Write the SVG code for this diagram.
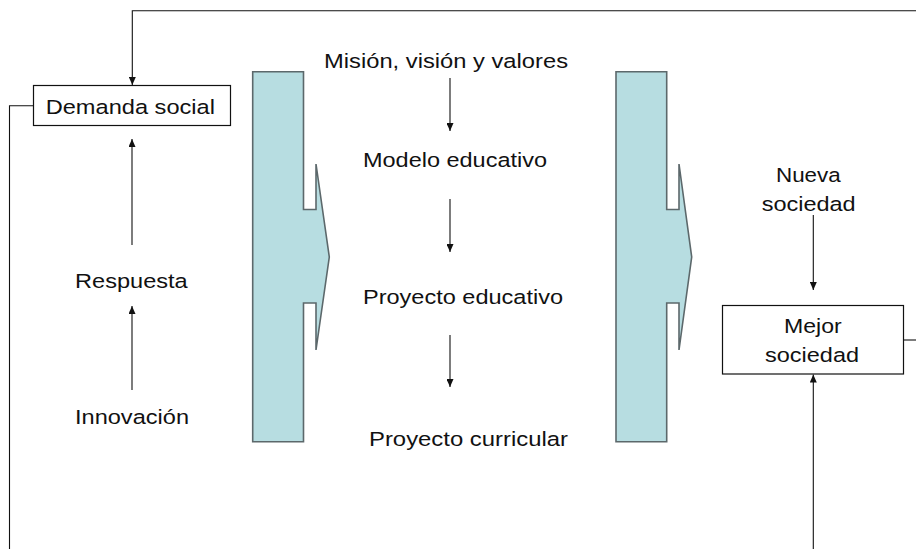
<svg xmlns="http://www.w3.org/2000/svg" width="916" height="549" viewBox="0 0 916 549">
<style>
text{font-family:"Liberation Sans",Arial,sans-serif;font-size:20.5px;fill:#111;}
.box{fill:#fff;stroke:#111;stroke-width:1.2;}
.bar{fill:#b7dde1;stroke:#5c686b;stroke-width:1.6;stroke-linejoin:miter;}
.ln{fill:none;stroke:#111;stroke-width:1.1;}
.arr{marker-end:url(#ah);}
</style>
<defs>
<marker id="ah" viewBox="0 0 8 7" refX="8" refY="3.5" markerWidth="8" markerHeight="7" markerUnits="userSpaceOnUse" orient="auto">
<path d="M0,0 L8,3.5 L0,7 z" fill="#111"/>
</marker>
</defs>
<rect width="916" height="549" fill="#fff"/>

<g id="bar1"><polygon class="bar" points="252.7,71.7 303.5,71.7 303.5,209.5 316,209.5 316,164 329.3,257 316,350 316,303 303.5,303 303.5,441.7 252.7,441.7"/></g>
<g id="bar2"><polygon class="bar" points="616,71.7 666.7,71.7 666.7,209.5 679,209.5 679,164 691.7,257 679,350 679,303 666.7,303 666.7,441.7 616,441.7"/></g>

<g id="connectors">
<path class="ln arr" d="M916,10.7 H132.3 V85"/>
<path class="ln" d="M33.5,105.7 H9.5 V549"/>
<path class="ln arr" d="M132,245 V139"/>
<path class="ln arr" d="M132,390 V306"/>
<path class="ln arr" d="M450,78 V131"/>
<path class="ln arr" d="M450,199 V252"/>
<path class="ln arr" d="M450,335 V387"/>
<path class="ln arr" d="M813.3,215 V290"/>
<path class="ln" d="M903.5,340 H916"/>
<path class="ln arr" d="M813.3,549 V374.5"/>
</g>

<g id="demanda">
<rect class="box" x="33.5" y="85.5" width="197" height="40"/>
<text x="45.7" y="114.3" textLength="169.3" lengthAdjust="spacingAndGlyphs">Demanda social</text>
</g>
<g id="respuesta"><text x="75" y="288.3" textLength="112.7" lengthAdjust="spacingAndGlyphs">Respuesta</text></g>
<g id="innovacion"><text x="75" y="424" textLength="114" lengthAdjust="spacingAndGlyphs">Innovación</text></g>

<g id="mision"><text x="324" y="68.3" textLength="244" lengthAdjust="spacingAndGlyphs">Misión, visión y valores</text></g>
<g id="modelo"><text x="363" y="167.3" textLength="184" lengthAdjust="spacingAndGlyphs">Modelo educativo</text></g>
<g id="proyecto-educativo"><text x="363" y="304.3" textLength="200" lengthAdjust="spacingAndGlyphs">Proyecto educativo</text></g>
<g id="proyecto-curricular"><text x="369" y="446" textLength="199" lengthAdjust="spacingAndGlyphs">Proyecto curricular</text></g>

<g id="nueva">
<text x="776" y="181.7" textLength="64.7" lengthAdjust="spacingAndGlyphs">Nueva</text>
<text x="761.7" y="210.7" textLength="94" lengthAdjust="spacingAndGlyphs">sociedad</text>
</g>
<g id="mejor">
<rect class="box" x="722.5" y="305.5" width="181" height="68.5"/>
<text x="784" y="333.3" textLength="57.7" lengthAdjust="spacingAndGlyphs">Mejor</text>
<text x="765" y="361.7" textLength="94" lengthAdjust="spacingAndGlyphs">sociedad</text>
</g>
</svg>
